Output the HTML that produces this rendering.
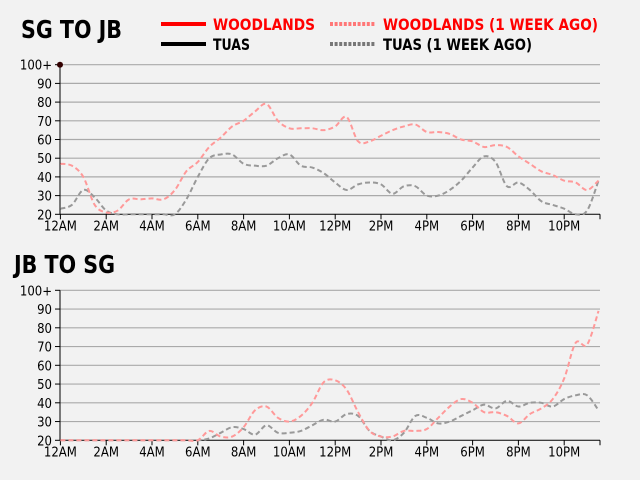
<!DOCTYPE html>
<html><head><meta charset="utf-8"><style>
body{margin:0;background:#f2f2f2;width:640px;height:480px;overflow:hidden;font-family:"DejaVu Sans Condensed","DejaVu Sans","Liberation Sans",sans-serif}
svg{display:block}
</style></head><body>
<svg width="640" height="480">
<g>
<line x1="161" y1="24" x2="206" y2="24" stroke="#f00" stroke-width="4"/>
<text x="213" y="30" fill="#f00" font-size="16" font-weight="bold" textLength="102" lengthAdjust="spacingAndGlyphs">WOODLANDS</text>
<line x1="330" y1="24" x2="375" y2="24" stroke="#f77" stroke-width="4" stroke-dasharray="3,1.6"/>
<text x="383" y="30" fill="#f00" font-size="16" font-weight="bold" textLength="215" lengthAdjust="spacingAndGlyphs">WOODLANDS (1 WEEK AGO)</text>
<line x1="161" y1="44" x2="206" y2="44" stroke="#000" stroke-width="4"/>
<text x="213" y="50" fill="#000" font-size="16" font-weight="bold" textLength="37" lengthAdjust="spacingAndGlyphs">TUAS</text>
<line x1="330" y1="44" x2="375" y2="44" stroke="#777" stroke-width="4" stroke-dasharray="3,1.6"/>
<text x="383" y="50" fill="#000" font-size="16" font-weight="bold" textLength="149" lengthAdjust="spacingAndGlyphs">TUAS (1 WEEK AGO)</text>
</g>
<text x="21" y="38" font-size="25" font-weight="bold" textLength="101" lengthAdjust="spacingAndGlyphs">SG TO JB</text>
<text x="14" y="273" font-size="25" font-weight="bold" textLength="101" lengthAdjust="spacingAndGlyphs">JB TO SG</text>
<g id="c1"></g>
<g id="c2"></g>
</svg>
<script>
const hours=[];for(let i=0;i<48;i++)hours.push(i/2);
const xTickLabels=["12AM","2AM","4AM","4AM","6AM","8AM","10AM","12PM","2PM","4PM","6PM","8PM","10PM"].filter((v,i)=>i!==3);
const yTicks=[20,30,40,50,60,70,80,90,100];
const sgWoodlandsWeek=[47,46,40,25,21,22,28,28,28.5,28,33,43,48,56,61,67,70,75,79,70,66,66,66,65,67,72,59,59,62,65,67,68,64,64,63,60,59,56,57,56,51,47,43,41,38,37,33,38];
const sgTuasWeek=[23,25,33,29,22,20,20,20,20,20,20,28,40,50,52,52,47,46,46,50,52,46,45,42,37,33,36,37,36,31,35,35,30,30,33,38,45,51,48,35,37,33,27,25,23,20,22,38];
const jbWoodlandsWeek=[20,20,20,20,20,20,20,20,20,20,20,20,20,25,22,22,27,36,38,32,30,33,40,51,52,47,35,25,22,22,25,25,26,32,38,42,40,35,35,33,29,34,37,42,53,72,71,89];
const jbTuasWeek=[20,20,20,20,20,20,20,20,20,20,20,20,20,21,24,27,26,23,28,24,24,25,28,31,30,34,33,25,22,20,24,33,32,29,30,33,36,39,37,41,38,40,40,38,42,44,44,36];
const NS="http://www.w3.org/2000/svg";
function mk(p,t,a){const e=document.createElementNS(NS,t);for(const k in a)e.setAttribute(k,a[k]);p.appendChild(e);return e;}
function path(pts){let d="M"+pts[0][0]+","+pts[0][1];for(let i=0;i<pts.length-1;i++){const p0=pts[Math.max(0,i-1)],p1=pts[i],p2=pts[i+1],p3=pts[Math.min(pts.length-1,i+2)];
d+=" C"+(p1[0]+(p2[0]-p0[0])/6)+","+(p1[1]+(p2[1]-p0[1])/6)+" "+(p2[0]-(p3[0]-p1[0])/6)+","+(p2[1]-(p3[1]-p1[1])/6)+" "+p2[0]+","+p2[1];}return d;}
function chart(g,top,bottom,series,dot){
 const x=h=>60.4+h*22.9, y=v=>bottom-(Math.min(v,100)-20)*(bottom-top)/80;
 yTicks.forEach(v=>{if(v>20){const l=mk(g,"line",{x1:60,x2:600,y1:y(v),y2:y(v),stroke:"#aaa","stroke-width":1.2});
 
 }
 mk(g,"line",{x1:55,x2:60,y1:y(v),y2:y(v),stroke:"#000"});
 const t=mk(g,"text",{x:52,y:y(v)+5,"text-anchor":"end","font-size":13});t.textContent=v===100?"100+":v;
 
 });
 mk(g,"line",{x1:60,x2:60,y1:top,y2:bottom,stroke:"#000"});
 mk(g,"line",{x1:60,x2:600,y1:bottom,y2:bottom,stroke:"#000"});
 xTickLabels.forEach((s,i)=>{const xx=x(i*2);mk(g,"line",{x1:xx,x2:xx,y1:bottom,y2:bottom+5,stroke:"#000"});
 const t=mk(g,"text",{x:xx,y:bottom+16,"text-anchor":"middle","font-size":13});t.textContent=s;
 
 });
 mk(g,"line",{x1:600,x2:600,y1:bottom,y2:bottom+5,stroke:"#000"});
 series.forEach(([vals,col,name])=>{const p=mk(g,"path",{d:path(vals.map((v,i)=>[x(hours[i]),y(v)])),fill:"none",stroke:col,"stroke-width":2,"stroke-dasharray":"5,3"});
 
 });
 if(dot){const c=mk(g,"circle",{cx:60,cy:top,r:3,fill:"#300"});}
}
chart(document.getElementById("c1"),64.7,214.3,[[sgTuasWeek,"#999","tuas-week-line"],[sgWoodlandsWeek,"#f99","woodlands-week-line"]],true);
chart(document.getElementById("c2"),290.3,440.3,[[jbTuasWeek,"#999","tuas-week-line"],[jbWoodlandsWeek,"#f99","woodlands-week-line"]],false);
</script>
</body></html>
